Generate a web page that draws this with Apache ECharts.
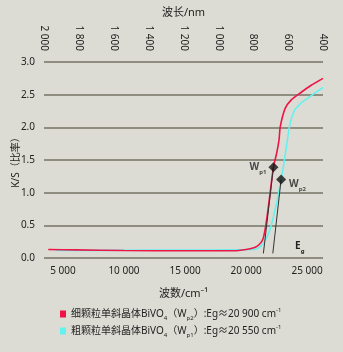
<!DOCTYPE html>
<html>
<head>
<meta charset="utf-8">
<script src="https://cdn.jsdelivr.net/npm/echarts@6/dist/echarts.min.js"></script>
<style>
  html, body { margin: 0; padding: 0; background: #dddcd4; }
  #chart { width: 343px; height: 352px; }
</style>
</head>
<body>
<div id="chart"></div>
<script>
// Kubelka-Munk reflectance curves of monoclinic BiVO4, fine vs coarse particles
const fineWn = [3800, 6000, 10000, 15000, 19000, 20000, 20700, 21100, 21400, 21640, 21900, 22240, 22500, 22700, 22800, 23200, 23700, 24400, 25300, 26300];
const fineKs = [0.13, 0.125, 0.115, 0.11, 0.11, 0.13, 0.16, 0.21, 0.30, 0.53, 0.89, 1.39, 1.60, 1.81, 2.01, 2.29, 2.42, 2.52, 2.64, 2.75];

const coarseWn = [4400, 6000, 10000, 15000, 19000, 20500, 20900, 21400, 21950, 22500, 22870, 23060, 23300, 23600, 24000, 24500, 25000, 26300];
const coarseKs = [0.115, 0.115, 0.118, 0.122, 0.125, 0.13, 0.14, 0.22, 0.43, 0.84, 1.20, 1.40, 1.70, 2.05, 2.27, 2.37, 2.44, 2.61];

// inflection points (diamonds) and the wavenumber where their tangents meet the baseline
const inflectWn = [22240, 22870];
const inflectKs = [1.39, 1.20];
const inflectName = ['p1', 'p2'];
const tangentEndWn = [21418, 22189];
const tangentEndKs = [0.07, 0.07];

const eqLabelWn = 24400;
const eqLabelKs = 0.18;

// axis ticks
const wnTicks = [5000, 10000, 15000, 20000, 25000];
const wlMin = 400, wlMax = 2000, wlStep = 200;
const ksMin = 0, ksMax = 3, ksStep = 0.5;

const seriesNames = ['fine', 'coarse'];
const legendText = {
  fine: '{t|细颗粒单斜晶体BiVO}{sb|4}{t|（W}{sb|p2}{t|）:Eg≈20 900 cm}{sp|-1}',
  coarse: '{t|粗颗粒单斜晶体BiVO}{sb|4}{t|（W}{sb|p1}{t|）:Eg≈20 550 cm}{sp|-1}'
};

const FONT = "'Noto Sans', 'Noto Sans CJK SC', sans-serif";
const INK = '#222222';
const RED = '#ee1446';
const CYAN = '#62f2ef';
const GRID = '#737365';

function spaced(n) {
  return String(n).replace(/\B(?=(\d{3})+(?!\d))/g, ' ');
}
function zip(a, b) { return a.map((v, i) => [v, b[i]]); }

const subRich = {
  t: { fontSize: 10, fontFamily: FONT, color: INK, lineHeight: 14 },
  sb: { fontSize: 6, fontFamily: FONT, color: INK, lineHeight: 7, verticalAlign: 'bottom' },
  sp: { fontSize: 6, fontFamily: FONT, color: INK, lineHeight: 7, verticalAlign: 'top' },
  w: { fontSize: 10, fontFamily: FONT, color: INK, lineHeight: 16, fontWeight: 'bold' },
  ws: { fontSize: 6, fontFamily: FONT, color: INK, lineHeight: 8, verticalAlign: 'bottom', fontWeight: 'bold' }
};

const chart = echarts.init(document.getElementById('chart'), null, { renderer: 'canvas' });

chart.setOption({
  backgroundColor: '#dddcd4',
  animation: false,
  textStyle: { fontFamily: FONT, color: INK },
  grid: { left: 44, right: 20, top: 62, bottom: 94, containLabel: false, outerBoundsMode: 'none' },
  legend: {
    data: seriesNames,
    orient: 'vertical',
    left: 55,
    top: 302,
    itemWidth: 6,
    itemHeight: 7,
    itemGap: 3,
    icon: 'rect',
    formatter: name => legendText[name],
    textStyle: { fontFamily: FONT, color: INK, fontSize: 10, rich: subRich }
  },
  xAxis: [
    {
      type: 'value',
      position: 'bottom',
      min: 3450,
      max: 26300,
      name: '波数/cm⁻¹',
      nameLocation: 'middle',
      nameGap: 30,
      nameMoveOverlap: false,
      nameTextStyle: { fontSize: 11, color: INK, fontFamily: FONT },
      axisLine: { show: false },
      axisTick: { show: false },
      splitLine: { show: false },
      axisLabel: {
        customValues: wnTicks,
        formatter: v => spaced(v),
        fontSize: 10,
        color: INK,
        margin: 8
      }
    },
    {
      type: 'value',
      position: 'top',
      min: wlMin,
      max: wlMax,
      interval: wlStep,
      inverse: true,
      name: '波长/nm',
      nameLocation: 'middle',
      nameGap: 44,
      nameMoveOverlap: false,
      nameTextStyle: { fontSize: 11, color: INK, fontFamily: FONT },
      axisLine: { show: false },
      axisTick: { show: false },
      splitLine: { show: false },
      axisLabel: {
        rotate: 90,
        margin: 11,
        formatter: v => spaced(v),
        fontSize: 10,
        color: INK
      }
    }
  ],
  yAxis: {
    type: 'value',
    min: ksMin,
    max: ksMax,
    interval: ksStep,
    name: 'K/S（比率）',
    nameLocation: 'middle',
    nameGap: 23,
    nameMoveOverlap: false,
    nameTextStyle: { fontSize: 10, color: INK, fontFamily: FONT },
    axisLine: { show: false },
    axisTick: { show: false },
    axisLabel: { formatter: v => v.toFixed(1), fontSize: 10, color: INK, margin: 9 },
    splitLine: { show: true, lineStyle: { color: GRID, width: 1.5 } }
  },
  series: [
    {
      name: 'fine',
      type: 'line',
      xAxisIndex: 0,
      data: zip(fineWn, fineKs),
      smooth: 0.25,
      showSymbol: false,
      symbol: 'none',
      itemStyle: { color: RED },
      lineStyle: { color: RED, width: 1.6 },
      z: 3
    },
    {
      name: 'coarse',
      type: 'line',
      xAxisIndex: 0,
      data: zip(coarseWn, coarseKs),
      smooth: 0.25,
      showSymbol: false,
      symbol: 'none',
      itemStyle: { color: CYAN },
      lineStyle: { color: CYAN, width: 1.6 },
      z: 2
    },
    {
      name: 'inflection',
      type: 'scatter',
      xAxisIndex: 0,
      symbol: 'diamond',
      symbolSize: 10,
      itemStyle: { color: '#111111' },
      z: 5,
      data: inflectWn.map((wn, i) => ({
        value: [wn, inflectKs[i]],
        label: {
          show: true,
          formatter: '{w|W}{ws|' + inflectName[i] + '}',
          rich: subRich,
          position: i === 0 ? 'left' : 'right',
          distance: i === 0 ? 2 : 3,
          offset: i === 0 ? [0, 0] : [0, 5]
        }
      })),
      markLine: {
        silent: true,
        symbol: ['none', 'arrow'],
        symbolSize: [0, 6],
        label: { show: false },
        lineStyle: { color: '#333333', width: 1, type: 'solid' },
        data: inflectWn.map((wn, i) => [
          { coord: [wn, inflectKs[i]] },
          { coord: [tangentEndWn[i], tangentEndKs[i]] }
        ])
      },
      markPoint: {
        silent: true,
        symbol: 'rect',
        symbolSize: 1,
        itemStyle: { color: 'rgba(0,0,0,0)' },
        label: {
          show: true,
          formatter: '{w|E}{ws|g}',
          rich: subRich
        },
        data: [{ coord: [eqLabelWn, eqLabelKs] }]
      }
    }
  ]
});
</script>
</body>
</html>
